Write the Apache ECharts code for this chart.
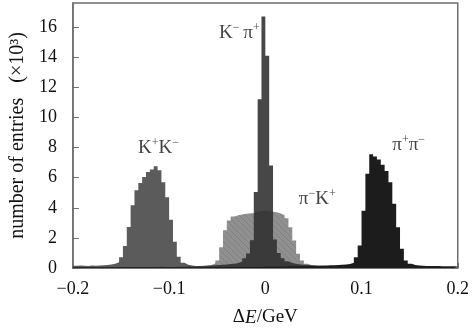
<!DOCTYPE html>
<html>
<head>
<meta charset="utf-8">
<script src="https://cdn.jsdelivr.net/npm/echarts@6/dist/echarts.min.js"></script>
<style>
  html, body { margin: 0; padding: 0; background: #fff; }
  #chart { width: 472px; height: 335px; }
</style>
</head>
<body>
<div id="chart"></div>
<script>
// histogram bins: 100 bins of 0.004 GeV from -0.2 to 0.2
var binStart = -0.2
var binWidth = 0.004

// entries per bin (x10^3)
var kk = [
  0.15,0.16,0.15,0.14,0.16,0.15,0.16,0.18,0.20,0.24,
  0.28,0.38,0.72,1.46,2.73,4.17,5.17,5.65,6.05,6.38,
  6.54,6.75,6.49,5.70,4.70,3.20,1.74,0.75,0.35,0.22,
  0.16,0.14,0.12,0.11,0.10,0.10,0.09,0.10,0.09,0.09,
  0.08,0.09,0.08,0.08,0.08,0.07,0.08,0.07,0.07,0.07,
  0.07,0.06,0.07,0.06,0.06,0.06,0.06,0.05,0.06,0.05,
  0.05,0.05,0.05,0.05,0.05,0.05,0.04,0.05,0.04,0.04,
  0.04,0.04,0.04,0.04,0.04,0.04,0.04,0.04,0.04,0.04,
  0.04,0.04,0.04,0.04,0.04,0.04,0.04,0.04,0.04,0.04,
  0.04,0.04,0.04,0.04,0.04,0.04,0.04,0.04,0.04,0.04
]
var kp = [
  0.05,0.05,0.05,0.05,0.05,0.05,0.05,0.05,0.05,0.05,
  0.05,0.05,0.05,0.06,0.06,0.06,0.06,0.06,0.07,0.07,
  0.07,0.07,0.08,0.08,0.08,0.09,0.09,0.10,0.10,0.11,
  0.11,0.12,0.13,0.14,0.15,0.16,0.18,0.20,0.22,0.24,
  0.26,0.29,0.34,0.44,0.64,0.97,1.85,5.05,11.2,16.7,
  14.1,6.80,1.90,1.00,0.65,0.45,0.34,0.28,0.24,0.22,
  0.20,0.18,0.16,0.15,0.14,0.13,0.12,0.11,0.10,0.10,
  0.09,0.09,0.08,0.08,0.08,0.07,0.07,0.07,0.07,0.06,
  0.06,0.06,0.06,0.06,0.05,0.05,0.05,0.05,0.05,0.05,
  0.05,0.05,0.05,0.05,0.05,0.05,0.05,0.05,0.05,0.05
]
var pk = [
  0.05,0.05,0.05,0.05,0.05,0.05,0.05,0.05,0.05,0.05,
  0.05,0.05,0.05,0.05,0.06,0.06,0.06,0.06,0.06,0.07,
  0.07,0.07,0.07,0.08,0.08,0.08,0.09,0.09,0.10,0.10,
  0.11,0.12,0.13,0.15,0.17,0.20,0.30,0.50,1.38,2.50,
  3.16,3.42,3.50,3.55,3.60,3.62,3.65,3.72,3.78,3.80,
  3.78,3.74,3.70,3.62,3.50,3.30,2.70,1.83,0.94,0.50,
  0.28,0.20,0.16,0.14,0.12,0.11,0.10,0.10,0.09,0.09,
  0.08,0.08,0.08,0.07,0.07,0.07,0.07,0.06,0.06,0.06,
  0.06,0.06,0.05,0.05,0.05,0.05,0.05,0.05,0.05,0.05,
  0.05,0.05,0.05,0.05,0.05,0.05,0.05,0.05,0.05,0.05
]
var pp = [
  0.05,0.05,0.05,0.05,0.05,0.05,0.05,0.05,0.05,0.05,
  0.05,0.05,0.05,0.05,0.05,0.05,0.05,0.05,0.05,0.05,
  0.05,0.05,0.05,0.05,0.05,0.05,0.05,0.05,0.05,0.05,
  0.05,0.05,0.05,0.05,0.05,0.06,0.06,0.06,0.06,0.06,
  0.06,0.06,0.06,0.07,0.07,0.07,0.07,0.07,0.07,0.08,
  0.08,0.08,0.09,0.09,0.10,0.10,0.11,0.11,0.12,0.12,
  0.13,0.14,0.14,0.15,0.16,0.17,0.18,0.19,0.20,0.22,
  0.24,0.27,0.35,0.72,1.50,3.80,6.26,7.55,7.40,7.20,
  6.85,6.45,5.70,4.27,2.71,1.28,0.50,0.28,0.20,0.17,
  0.15,0.14,0.14,0.13,0.13,0.12,0.12,0.12,0.11,0.11
]

// peak labels
var labelText = ['{m|K}{s|+}{m|K}{s|\u2212}', '{m|K}{s|\u2212}{m|\u2009\u03c0}{s|+}', '{m|\u03c0}{s|\u2212}{m|K}{s|+}', '{m|\u03c0}{s|+}{m|\u03c0}{s|\u2212}']
var labelX = [-0.111, -0.027, 0.054, 0.149]
var labelY = [8.0, 15.6, 4.6, 8.15]

var FONT = "'Liberation Serif', 'DejaVu Serif', serif"
var INK = '#111'

function histo(vals) {
  var pts = vals.map(function (v, i) { return [binStart + i * binWidth, v] })
  pts.push([binStart + vals.length * binWidth, vals[vals.length - 1]])
  return pts
}

function hatch() {
  var s = 6
  var c = document.createElement('canvas')
  c.width = s; c.height = s
  var ctx = c.getContext('2d')
  ctx.fillStyle = '#909090'
  ctx.fillRect(0, 0, s, s)
  ctx.strokeStyle = '#7c7c7c'
  ctx.lineWidth = 0.8
  ctx.beginPath()
  ctx.moveTo(0, 0); ctx.lineTo(s, s)
  ctx.moveTo(-1, s - 1); ctx.lineTo(1, s + 1)
  ctx.moveTo(s - 1, -1); ctx.lineTo(s + 1, 1)
  ctx.stroke()
  return c
}

function histSeries(name, vals, fill, opacity) {
  return {
    name: name,
    type: 'line',
    step: 'end',
    data: histo(vals),
    symbol: 'none',
    silent: true,
    lineStyle: { width: 0, opacity: 0 },
    areaStyle: { color: fill, opacity: opacity, origin: 'start' }
  }
}

var chart = echarts.init(document.getElementById('chart'))
var option = {
  animation: false,
  backgroundColor: '#fff',
  grid: {
    left: 72, right: 10, top: 3, bottom: 67,
    show: true, borderColor: '#6e6e6e', borderWidth: 1.5, backgroundColor: 'transparent'
  },
  xAxis: {
    type: 'value',
    min: -0.2, max: 0.2, interval: 0.1,
    name: '{n|\u0394}{i|E}{n|/GeV}',
    nameLocation: 'middle',
    nameGap: 40,
    nameTextStyle: {
      rich: {
        n: { fontFamily: FONT, fontSize: 19, color: INK },
        i: { fontFamily: FONT, fontSize: 19, fontStyle: 'italic', color: INK }
      }
    },
    axisLine: { onZero: false, lineStyle: { color: '#6e6e6e', width: 1.5 } },
    axisTick: { inside: true, length: 5, lineStyle: { color: '#6e6e6e' } },
    splitLine: { show: false },
    axisLabel: {
      margin: 12,
      fontFamily: FONT, fontSize: 18, color: INK,
      formatter: function (v) {
        if (Math.abs(v) < 1e-9) return '0'
        return (v < 0 ? '\u2212' : '') + Math.abs(v).toFixed(1)
      }
    }
  },
  yAxis: {
    type: 'value',
    min: 0, max: 17.6, interval: 2,
    name: 'number of entries   (\u00d710\u00b3)',
    nameLocation: 'middle',
    nameGap: 37,
    nameTextStyle: { fontFamily: FONT, fontSize: 20, color: INK },
    axisLine: { onZero: false, lineStyle: { color: '#6e6e6e', width: 1.5 } },
    axisTick: { inside: true, length: 6, lineStyle: { color: '#6e6e6e' } },
    splitLine: { show: false },
    axisLabel: {
      margin: 16, showMaxLabel: false,
      fontFamily: FONT, fontSize: 18, color: INK,
      formatter: function (v) { return (v % 2 === 0) ? String(v) : '' }
    }
  },
  series: [
    histSeries('K+K-', kk, '#5b5b5b', 1),
    histSeries('pi-K+', pk, { image: hatch(), repeat: 'repeat' }, 1),
    histSeries('K-pi+', kp, '#2e2e2e', 0.88),
    histSeries('pi+pi-', pp, '#1c1c1c', 1),
    {
      type: 'scatter',
      symbolSize: 0,
      silent: true,
      z: 10,
      data: labelX.map(function (x, i) { return [x, labelY[i], labelText[i]] }),
      label: {
        show: true,
        position: 'inside',
        formatter: function (p) { return p.data[2] },
        rich: {
          m: { fontFamily: FONT, fontSize: 19, lineHeight: 22, color: INK },
          s: { fontFamily: FONT, fontSize: 12, lineHeight: 12, verticalAlign: 'top', color: INK }
        }
      }
    }
  ]
}
chart.setOption(option)
</script>
</body>
</html>
